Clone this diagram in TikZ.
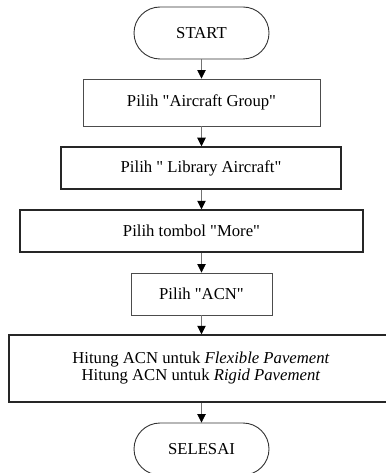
\documentclass[tikz,border=0pt]{standalone}
\usepackage{fontspec}
\setmainfont{Liberation Serif}[Ligatures=TeXOff]
\usetikzlibrary{arrows.meta}
\begin{document}
\begin{tikzpicture}[x=1pt,y=-1pt,
  every node/.style={font=\fontsize{16.7}{17}\selectfont, inner sep=0pt, align=center},
  term/.style={draw=black!80, line width=0.9pt, rounded corners=26pt,
    minimum width=135pt, minimum height=52pt},
  thinbox/.style={draw=black!70, line width=0.9pt},
  boldbox/.style={draw=black!85, line width=1.5pt},
  flow/.style={draw=black!55, line width=0.8pt,
    -{Triangle[width=8.5pt,length=8.5pt,color=black]}}]
  \useasboundingbox (0,0) rectangle (385,473);
  \fill[white] (0,0) rectangle (385,473);

  \node[term] (start) at (201.5,33) {START};
  \node[thinbox, minimum width=237pt, minimum height=47pt] (b1) at (201.5,102.5) {Pilih "Aircraft Group"};
  \node[boldbox, minimum width=280pt, minimum height=42pt] (b2) at (201,168) {Pilih "\ Library Aircraft"};
  \node[boldbox, minimum width=343pt, minimum height=42pt] (b3) at (191.5,231) {Pilih tombol "More"};
  \node[thinbox, minimum width=141pt, minimum height=42pt] (b4) at (201.5,294) {Pilih "ACN"};
  \node[boldbox, minimum width=384pt, minimum height=67pt] (b5) at (201,368.5)
    {Hitung ACN untuk \textit{Flexible Pavement}\\Hitung ACN untuk \textit{Rigid Pavement}};
  \node[term] (end) at (201.5,449) {SELESAI};

  \draw[flow] (start.south) -- (b1.north -| start.south);
  \draw[flow] (b1.south -| start.south) -- (b2.north -| start.south);
  \draw[flow] (b2.south -| start.south) -- (b3.north -| start.south);
  \draw[flow] (b3.south -| start.south) -- (b4.north -| start.south);
  \draw[flow] (b4.south -| start.south) -- (b5.north -| start.south);
  \draw[flow] (b5.south -| start.south) -- (end.north);
\end{tikzpicture}
\end{document}
